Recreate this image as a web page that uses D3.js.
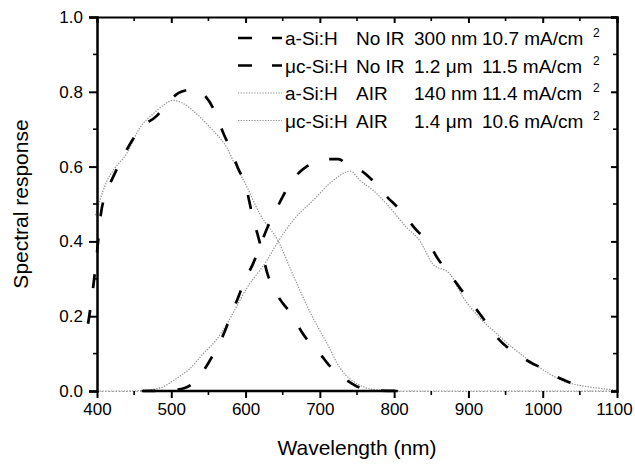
<!DOCTYPE html>
<html>
<head>
<meta charset="utf-8">
<script src="https://cdn.jsdelivr.net/npm/d3@7/dist/d3.min.js"></script>
<style>
body { margin: 0; background: #fff; overflow: hidden; }
text { font-family: "Liberation Sans", Arial, sans-serif; fill: #000; }
</style>
</head>
<body>
<script>
// tick values
const xMajor = [400, 500, 600, 700, 800, 900, 1000, 1100];
const xMinor = [450, 550, 650, 750, 850, 950, 1050];
const yMajor = [0.0, 0.2, 0.4, 0.6, 0.8, 1.0];
const yMinor = [0.1, 0.3, 0.5, 0.7, 0.9];

// legend columns
const legendMaterial = ["a-Si:H", "\u03bcc-Si:H", "a-Si:H", "\u03bcc-Si:H"];
const legendFilter = ["No IR", "No IR", "AIR", "AIR"];
const legendThickness = ["300 nm", "1.2  \u03bcm", "140 nm", "1.4  \u03bcm"];
const legendCurrent = ["10.7 mA/cm", "11.5 mA/cm", "11.4 mA/cm", "10.6 mA/cm"];

// [wavelength nm, spectral response]
const aSiNoIR = [[388,0.18],[395,0.28],[400,0.37],[405,0.47],[412,0.53],[420,0.565],[440,0.645],[460,0.705],[480,0.735],[495,0.77],[510,0.797],[522,0.805],[532,0.808],[545,0.79],[558,0.75],[570,0.69],[580,0.645],[590,0.595],[600,0.55],[608,0.48],[620,0.39],[630,0.31],[640,0.265],[650,0.235],[662,0.205],[675,0.16],[690,0.12],[700,0.1],[712,0.07],[725,0.045],[737,0.028],[750,0.012],[765,0.003],[805,0]];
const ucSiNoIR = [[460,0],[500,0.002],[518,0.008],[530,0.022],[540,0.045],[550,0.075],[560,0.11],[570,0.15],[580,0.2],[590,0.25],[600,0.3],[610,0.34],[620,0.39],[630,0.44],[640,0.48],[650,0.52],[660,0.555],[670,0.58],[682,0.6],[695,0.612],[705,0.62],[725,0.62],[740,0.6],[755,0.59],[770,0.565],[790,0.52],[810,0.48],[830,0.43],[845,0.4],[860,0.35],[872,0.32],[885,0.285],[900,0.245],[912,0.215],[925,0.18],[940,0.14],[960,0.105],[985,0.075],[1000,0.06],[1015,0.042],[1030,0.028],[1042,0.018],[1055,0.005],[1065,0]];
const aSiAIR = [[398,0.47],[404,0.51],[413,0.56],[422,0.59],[440,0.635],[458,0.705],[475,0.74],[490,0.765],[502,0.777],[515,0.77],[529,0.75],[552,0.705],[566,0.675],[575,0.65],[583,0.617],[602,0.545],[619,0.474],[644,0.4],[664,0.31],[687,0.21],[710,0.126],[727,0.062],[742,0.03],[760,0.01],[780,0.002],[800,0],[1100,0]];
const ucSiAIR = [[400,0],[440,0],[470,0.003],[490,0.012],[508,0.035],[525,0.06],[543,0.1],[560,0.135],[575,0.18],[602,0.276],[629,0.35],[644,0.4],[664,0.456],[691,0.51],[718,0.563],[741,0.588],[754,0.563],[772,0.536],[790,0.5],[817,0.437],[835,0.4],[852,0.34],[875,0.313],[893,0.25],[915,0.196],[938,0.153],[960,0.115],[983,0.08],[1010,0.045],[1027,0.027],[1050,0.015],[1073,0.008],[1100,0.002]];

// stretch of the bottom axis that prints solid black in the scan
const baseInk = [462, 805];

const width = 635, height = 466;
const plot = {left: 97, right: 617, top: 17, bottom: 391};

const svg = d3.select("body").append("svg")
    .attr("width", width)
    .attr("height", height);

const xScale = d3.scaleLinear().domain([400, 1100]).range([plot.left, plot.right]);
const yScale = d3.scaleLinear().domain([0, 1]).range([plot.bottom, plot.top]);

const darkStyle = {dash: "14,22", color: "#000", w: 2.7};
const grayStyle = {dash: "1.3,1.4", color: "#8e8e8e", w: 1.2};

function renderCurves() {
    const line = d3.line()
        .x((d) => xScale(d[0]))
        .y((d) => yScale(d[1]))
        .curve(d3.curveMonotoneX);

    const series = [
        {data: aSiAIR, style: grayStyle},
        {data: ucSiAIR, style: grayStyle},
        {data: aSiNoIR, style: darkStyle},
        {data: ucSiNoIR, style: darkStyle}
    ];

    svg.append("g").attr("class", "curves")
        .selectAll("path").data(series).enter().append("path")
        .attr("d", (d) => line(d.data))
        .attr("fill", "none")
        .attr("stroke", (d) => d.style.color)
        .attr("stroke-width", (d) => d.style.w)
        .attr("stroke-dasharray", (d) => d.style.dash);
}

function minorTicks(values, pos, len, vertical) {
    svg.append("g").selectAll("line").data(values).enter().append("line")
        .attr("x1", (d) => vertical ? xScale(d) : pos)
        .attr("x2", (d) => vertical ? xScale(d) : pos + len)
        .attr("y1", (d) => vertical ? pos : yScale(d))
        .attr("y2", (d) => vertical ? pos + len : yScale(d))
        .attr("stroke", "#000").attr("stroke-width", 1.6);
}

function renderAxes() {
    // bottom axis, ticks outward
    const xAxis = d3.axisBottom(xScale).tickValues(xMajor).tickSize(7).tickPadding(5).tickFormat((d) => d);
    const gx = svg.append("g")
        .attr("class", "xaxis")
        .attr("transform", "translate(0," + plot.bottom + ")")
        .style("font-size", "17px")
        .call(xAxis);
    gx.select(".domain").attr("stroke", "#999").attr("stroke-dasharray", "1.5,2");
    gx.selectAll(".tick line").attr("stroke-width", 2);
    gx.selectAll(".tick text").attr("font-family", '"Liberation Sans", Arial, sans-serif')
        .attr("dx", (d) => d === 1100 ? -3 : 0);
    svg.append("line")
        .attr("x1", xScale(baseInk[0])).attr("x2", xScale(baseInk[1]))
        .attr("y1", plot.bottom).attr("y2", plot.bottom)
        .attr("stroke", "#000").attr("stroke-width", 2.5);
    minorTicks(xMinor, plot.bottom, 4, true);

    // left axis, ticks outward
    const yAxis = d3.axisLeft(yScale).tickValues(yMajor).tickSize(8).tickPadding(6).tickFormat(d3.format(".1f"));
    const gy = svg.append("g")
        .attr("class", "yaxis")
        .attr("transform", "translate(" + plot.left + ",0)")
        .style("font-size", "17px")
        .call(yAxis);
    gy.select(".domain").attr("stroke-width", 2.5);
    gy.selectAll(".tick line").attr("stroke-width", 2);
    gy.selectAll(".tick text").attr("font-family", '"Liberation Sans", Arial, sans-serif');
    minorTicks(yMinor, plot.left, -4, false);

    // top frame with inward ticks
    const xTop = d3.axisTop(xScale).tickValues(xMajor).tickSize(-6).tickFormat("");
    const gt = svg.append("g")
        .attr("transform", "translate(0," + plot.top + ")")
        .call(xTop);
    gt.select(".domain").attr("stroke-width", 1.8);
    gt.selectAll(".tick line").attr("stroke-width", 2);
    minorTicks(xMinor, plot.top, 4, true);

    // right frame with inward ticks
    const yRight = d3.axisRight(yScale).tickValues(yMajor).tickSize(-6).tickFormat("");
    const gr = svg.append("g")
        .attr("transform", "translate(" + plot.right + ",0)")
        .call(yRight);
    gr.select(".domain").attr("stroke-width", 2.5);
    gr.selectAll(".tick line").attr("stroke-width", 2);
    minorTicks(yMinor, plot.right, -4, false);

    // titles
    svg.append("text")
        .attr("x", (plot.left + plot.right) / 2)
        .attr("y", 455)
        .attr("text-anchor", "middle")
        .style("font-size", "21px")
        .text("Wavelength (nm)");

    svg.append("text")
        .attr("transform", "translate(28," + ((plot.top + plot.bottom) / 2) + ") rotate(-90)")
        .attr("text-anchor", "middle")
        .style("font-size", "21px")
        .text("Spectral response");
}

function renderLegend() {
    const rows = d3.range(legendMaterial.length);
    const rowY = (i) => 45 + i * 27.5;
    const styles = [darkStyle, darkStyle, grayStyle, grayStyle];
    const g = svg.append("g").attr("class", "legend").style("font-size", "19px");

    g.selectAll("line").data(rows).enter().append("line")
        .attr("x1", 238).attr("x2", 282)
        .attr("y1", (i) => rowY(i) - 7).attr("y2", (i) => rowY(i) - 7)
        .attr("stroke", (i) => styles[i].color)
        .attr("stroke-width", (i) => styles[i].w)
        .attr("stroke-dasharray", (i) => i < 2 ? "14,20" : styles[i].dash);

    const cols = [
        {values: legendMaterial, x: 285},
        {values: legendFilter, x: 356},
        {values: legendThickness, x: 414},
        {values: legendCurrent, x: 482}
    ];
    cols.forEach((c) => {
        g.selectAll(null).data(rows).enter().append("text")
            .attr("x", c.x)
            .attr("y", (i) => rowY(i))
            .text((i) => c.values[i]);
    });
    g.selectAll(null).data(rows).enter().append("text")
        .attr("x", 593)
        .attr("y", (i) => rowY(i) - 8)
        .style("font-size", "12px")
        .text("2");
}

renderCurves();
renderAxes();
renderLegend();
</script>
</body>
</html>
